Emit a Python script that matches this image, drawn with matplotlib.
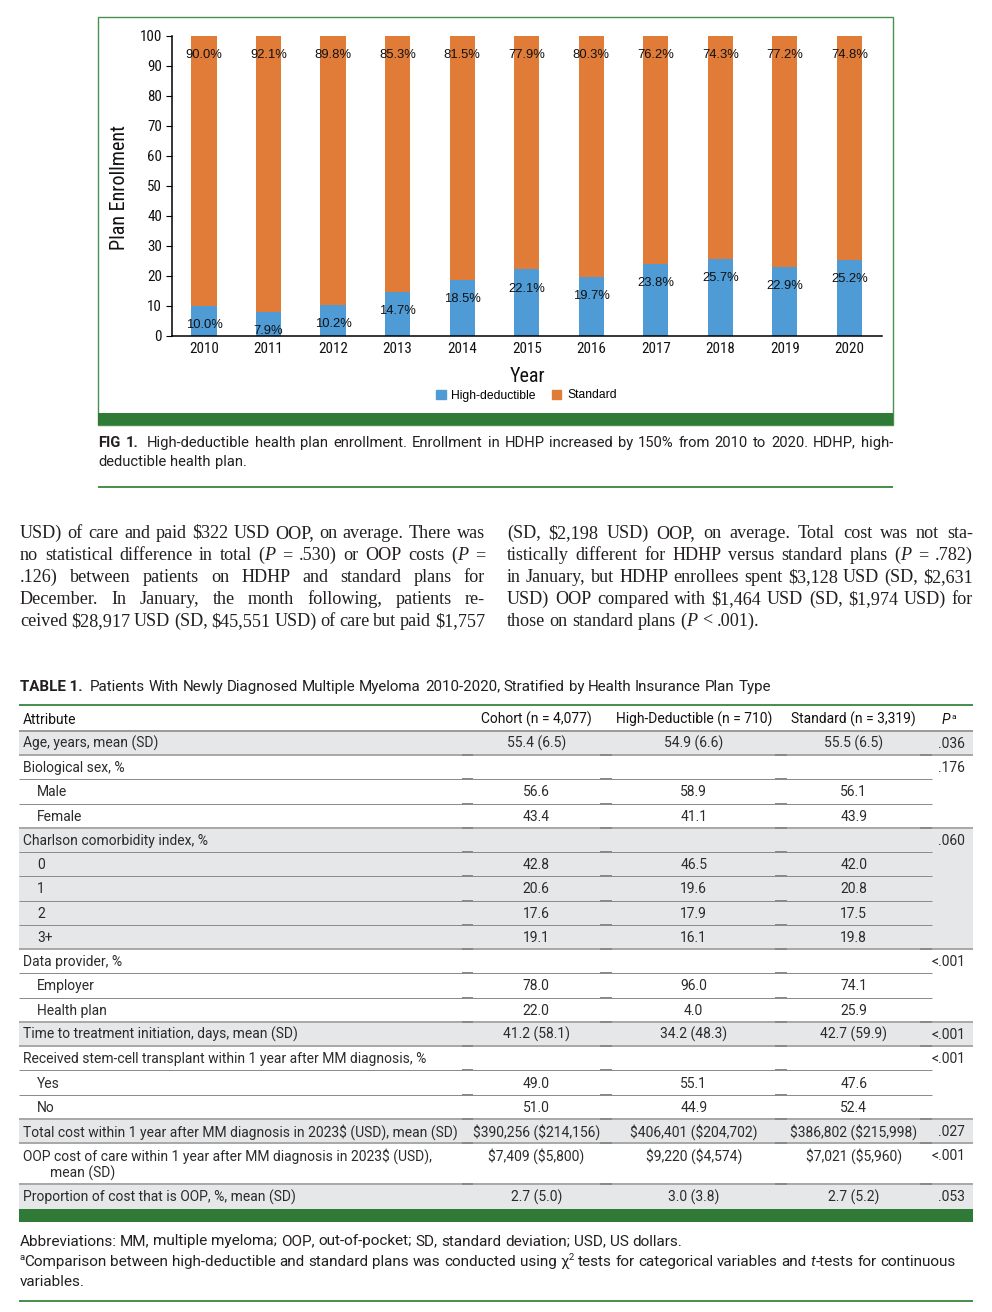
import matplotlib
matplotlib.use("Agg")
import matplotlib.pyplot as plt
from matplotlib.patches import Rectangle
from matplotlib.lines import Line2D
from matplotlib import font_manager

# ---------------- data ----------------
years = [2010, 2011, 2012, 2013, 2014, 2015, 2016, 2017, 2018, 2019, 2020]
high_deductible = [10.0, 7.9, 10.2, 14.7, 18.5, 22.1, 19.7, 23.8, 25.7, 22.9, 25.2]
standard = [90.0, 92.1, 89.8, 85.3, 81.5, 77.9, 80.3, 76.2, 74.3, 77.2, 74.8]
series_names = ["High-deductible", "Standard"]
y_ticks = [0, 10, 20, 30, 40, 50, 60, 70, 80, 90, 100]
y_label = "Plan Enrollment"
x_label = "Year"

caption_lines = [
    "~FIG 1.~ High-deductible health plan enrollment. Enrollment in HDHP increased by 150% from 2010 to 2020. HDHP, high-",
    "deductible health plan.",
]
body_left = [
    "USD) of care and paid $322 USD OOP, on average. There was",
    "no statistical difference in total (*P* = .530) or OOP costs (*P* =",
    ".126) between patients on HDHP and standard plans for",
    "December. In January, the month following, patients re-",
    "ceived $28,917 USD (SD, $45,551 USD) of care but paid $1,757",
]
body_right = [
    "(SD, $2,198 USD) OOP, on average. Total cost was not sta-",
    "tistically different for HDHP versus standard plans (*P* = .782)",
    "in January, but HDHP enrollees spent $3,128 USD (SD, $2,631",
    "USD) OOP compared with $1,464 USD (SD, $1,974 USD) for",
    "those on standard plans (*P* < .001).",
]
table_title_label = "TABLE 1."
table_title = "Patients With Newly Diagnosed Multiple Myeloma 2010-2020, Stratified by Health Insurance Plan Type"
col_headers = ["Attribute", "Cohort (n = 4,077)", "High-Deductible (n = 710)", "Standard (n = 3,319)", "P", "a"]
attributes = [
    "Age, years, mean (SD)", "Biological sex, %", "Male", "Female",
    "Charlson comorbidity index, %", "0", "1", "2", "3+",
    "Data provider, %", "Employer", "Health plan",
    "Time to treatment initiation, days, mean (SD)",
    "Received stem-cell transplant within 1 year after MM diagnosis, %", "Yes", "No",
    "Total cost within 1 year after MM diagnosis in 2023$ (USD), mean (SD)",
    "OOP cost of care within 1 year after MM diagnosis in 2023$ (USD),\nmean (SD)",
    "Proportion of cost that is OOP, %, mean (SD)",
]
is_subitem = [0, 0, 1, 1, 0, 1, 1, 1, 1, 0, 1, 1, 0, 0, 1, 1, 0, 0, 0]
cohort = ["55.4 (6.5)", "", "56.6", "43.4", "", "42.8", "20.6", "17.6", "19.1", "", "78.0", "22.0",
          "41.2 (58.1)", "", "49.0", "51.0", "$390,256 ($214,156)", "$7,409 ($5,800)", "2.7 (5.0)"]
high_ded_col = ["54.9 (6.6)", "", "58.9", "41.1", "", "46.5", "19.6", "17.9", "16.1", "", "96.0", "4.0",
                "34.2 (48.3)", "", "55.1", "44.9", "$406,401 ($204,702)", "$9,220 ($4,574)", "3.0 (3.8)"]
standard_col = ["55.5 (6.5)", "", "56.1", "43.9", "", "42.0", "20.8", "17.5", "19.8", "", "74.1", "25.9",
                "42.7 (59.9)", "", "47.6", "52.4", "$386,802 ($215,998)", "$7,021 ($5,960)", "2.7 (5.2)"]
p_values = [".036", ".176", "", "", ".060", "", "", "", "", "<.001", "", "", "<.001", "<.001", "", "",
            ".027", "<.001", ".053"]
footnotes = [
    "Abbreviations: MM, multiple myeloma; OOP, out-of-pocket; SD, standard deviation; USD, US dollars.",
    "^a^Comparison between high-deductible and standard plans was conducted using \u03c7^2^ tests for categorical variables and *t*-tests for continuous",
    "variables.",
]

# ---------------- styles ----------------
BLUE = "#4E9BD6"
ORANGE = "#E07C38"
GREEN_DARK = "#2F7A36"
GREEN_LINE = "#4A9150"
SHADE = "#E6E7E8"
TXT = "#231F20"

names = {f.name for f in font_manager.fontManager.ttflist}
narrow_candidates = ["Liberation Sans Narrow", "Arial Narrow", "Roboto Condensed",
                     "Open Sans Condensed", "Open Sans Condensed Light"]
narrow_found = [n for n in narrow_candidates if n in names]
CHART_FONT = "Liberation Sans"
NARROW = bool(narrow_found)
NARROW_FONT = [narrow_found[0], "Liberation Sans"] if NARROW else ["Liberation Sans"]
SANS = ["Roboto", "DejaVu Sans"] if "Roboto" in names else ["Liberation Sans", "DejaVu Sans"]
SERIF = ["Liberation Serif", "DejaVu Serif"]

W, H = 992, 1312
fig = plt.figure(figsize=(W / 100, H / 100), dpi=100)
fig.patch.set_facecolor("white")
R = fig.canvas.get_renderer()


def fx(x):
    return x / W


def fy(y):
    return 1 - y / H


def esc(s):
    return s.replace("$", r"\$")


_cache = {}


def tw(s, kw):
    key = (s, repr(sorted(kw.items())))
    if key not in _cache:
        t = fig.text(0, 0, esc(s), **kw)
        _cache[key] = t.get_window_extent(R).width
        t.remove()
    return _cache[key]


def parse(line):
    state = {"i": False, "b": False, "s": False}
    words, cur, buf = [], [], [""]

    def flush():
        if buf[0]:
            cur.append((buf[0], (state["i"], state["b"], state["s"])))
            buf[0] = ""

    for ch in line:
        if ch in "*~^":
            flush()
            key = {"*": "i", "~": "b", "^": "s"}[ch]
            state[key] = not state[key]
        elif ch == " ":
            flush()
            if cur:
                words.append(list(cur))
                cur.clear()
        else:
            buf[0] += ch
    flush()
    if cur:
        words.append(list(cur))
    return words


def kw_for(base, flags):
    it, bd, sp = flags
    kw = dict(base)
    if it:
        kw["style"] = "italic"
    if bd:
        kw["weight"] = "bold"
    if sp:
        kw["size"] = base["size"] * 0.62
    return kw


def space_w(base):
    return tw("n n", base) - tw("nn", base)


def line_parts(line, base):
    words = parse(line)
    widths = [sum(tw(s, kw_for(base, f)) for s, f in w) for w in words]
    return words, widths


def draw_rich(line, x0, yb, base, x1=None, justify=False, first_gap=None):
    words, widths = line_parts(line, base)
    n = len(words)
    sp = space_w(base)
    extra = 0 if first_gap is None else first_gap - sp
    if justify and n > 1:
        gap = (x1 - x0 - sum(widths) - extra) / (n - 1)
    else:
        gap = sp
    x = x0
    em = base["size"] * 100 / 72
    for k, (w, wd) in enumerate(zip(words, widths)):
        xx = x
        for s, f in w:
            kw = kw_for(base, f)
            yy = yb - (0.38 * em if f[2] else 0)
            fig.text(fx(xx), fy(yy), esc(s), ha="left", va="baseline", **kw)
            xx += tw(s, kw)
        x += wd + gap + (extra if k == 1 else 0)


def natural_width(line, base):
    words, widths = line_parts(line, base)
    return sum(widths) + (len(words) - 1) * space_w(base)


def hline(x0, x1, y, lw_px, color, z=3):
    fig.add_artist(Line2D([fx(x0), fx(x1)], [fy(y), fy(y)], transform=fig.transFigure,
                          lw=lw_px * 0.72, color=color, zorder=z, solid_capstyle="butt"))


def rect(x0, y0, x1, y1, color, z=1, fill=True, ec=None, lw=0):
    fig.add_artist(Rectangle((fx(x0), fy(y1)), (x1 - x0) / W, (y1 - y0) / H, transform=fig.transFigure,
                             facecolor=color if fill else "none", edgecolor=ec if ec else "none",
                             lw=lw, zorder=z))


# ---------------- figure box ----------------
rect(98.3, 17.3, 892.7, 425, "white", z=0.5, fill=False, ec=GREEN_LINE, lw=1.0)
rect(98.3, 412.7, 892.7, 425, GREEN_DARK, z=1)

# ---------------- chart ----------------
ax_l, ax_r, ax_t, ax_b = 171.7, 881.7, 35.7, 335.7
ax = fig.add_axes([fx(ax_l), fy(ax_b), (ax_r - ax_l) / W, (ax_b - ax_t) / H])
ax.bar(years, high_deductible, width=0.39, color=BLUE, zorder=2)
ax.bar(years, standard, width=0.39, bottom=high_deductible, color=ORANGE, zorder=2)
ax.set_xlim(2009.5, 2020.5)
ax.set_ylim(0, 100)
ax.set_yticks(y_ticks)
ax.set_xticks(years)
for sp in ["top", "right"]:
    ax.spines[sp].set_visible(False)
for sp in ["left", "bottom"]:
    ax.spines[sp].set_linewidth(1.1)
    ax.spines[sp].set_color("black")
tick_size = 10.8 if NARROW else 9.3
ax.tick_params(axis="y", direction="out", length=4, width=0.8, pad=3, labelsize=tick_size)
ax.tick_params(axis="x", length=0, pad=4.5, labelsize=tick_size)
for lab in ax.get_xticklabels() + ax.get_yticklabels():
    lab.set_family(NARROW_FONT)
    lab.set_color("#111111")

for yr, hv, sv in zip(years, high_deductible, standard):
    ax.text(yr, 93.6, f"{sv:.1f}%", ha="center", va="center", family=CHART_FONT, size=9.4,
            color="#111111", zorder=3)
    ax.text(yr, hv - 6.4, f"{hv:.1f}%", ha="center", va="center", family=CHART_FONT, size=9.4,
            color="#111111", zorder=3)

lab_size = 14.5 if NARROW else 12
ax.set_ylabel(y_label, family=NARROW_FONT, size=lab_size, color="#111111")
ax.yaxis.set_label_coords((129.2 - ax_l) / (ax_r - ax_l), (ax_b - 188) / (ax_b - ax_t))
ax.set_xlabel(x_label, family=NARROW_FONT, size=lab_size, color="#111111")
ax.xaxis.set_label_coords((527 - ax_l) / (ax_r - ax_l), (ax_b - 367.0) / (ax_b - ax_t))

handles = [Rectangle((0, 0), 1, 1, color=BLUE), Rectangle((0, 0), 1, 1, color=ORANGE)]
ax.legend(handles, series_names, loc="center", ncol=2, frameon=False,
          bbox_to_anchor=((526.5 - ax_l) / (ax_r - ax_l), (ax_b - 395.5) / (ax_b - ax_t)),
          prop={"family": CHART_FONT, "size": 8.7}, handlelength=0.75, handleheight=0.75,
          handletextpad=0.45, columnspacing=1.4, borderaxespad=0, borderpad=0)

# ---------------- caption ----------------
cap_base = {"family": SANS, "size": 10, "color": TXT}
cap_base["size"] = 10 * (795 * 0.965) / natural_width(caption_lines[0], cap_base)
draw_rich(caption_lines[0], 98.5, 446.7, cap_base, x1=893, justify=True, first_gap=7.5)
draw_rich(caption_lines[1], 98.5, 466.2, cap_base)
hline(98.3, 892.7, 487.3, 2, GREEN_LINE)

# ---------------- body text ----------------
body_base = {"family": SERIF, "size": 10, "color": TXT}
cols = [(body_left, 20, 485, True), (body_right, 507, 973, False)]
ratios = []
for lines, x0, x1, all_just in cols:
    for i, ln in enumerate(lines):
        if all_just or i < len(lines) - 1:
            words, widths = line_parts(ln, body_base)
            need = sum(widths) + (len(words) - 1) * space_w(body_base) * 0.85
            ratios.append((x1 - x0) / need)
body_base["size"] = min(13.5, 10 * min(ratios))
for lines, x0, x1, all_just in cols:
    for i, ln in enumerate(lines):
        just = all_just or i < len(lines) - 1
        draw_rich(ln, x0, 537.7 + 22.1 * i, body_base, x1=x1, justify=just)

# ---------------- table ----------------
tt_base = {"family": SANS, "size": 10, "color": TXT}
lab_w = tw(table_title_label, dict(tt_base, weight="bold"))
tt_base["size"] = 10 * (757 - 7.5) / (natural_width(table_title, tt_base) + lab_w)
fig.text(fx(19.5), fy(690.7), table_title_label, ha="left", va="baseline", weight="bold", **tt_base)
lab_w = tw(table_title_label, dict(tt_base, weight="bold"))
draw_rich(table_title, 19.5 + lab_w + 7.5, 690.7, tt_base)

T_L, T_R, P_L = 19, 972.7, 931.7
hline(T_L, T_R, 705, 2, GREEN_LINE)

tbase = {"family": SANS, "size": 10, "color": "#2B2B2B"}
tbase["size"] = 10 * 135.7 / tw(attributes[0], tbase)
em = tbase["size"] * 100 / 72
cap_off = 0.356 * em
x_attr, x_sub = 22.7, 37.0
x_cohort, x_hd, x_std, x_p = 536.3, 693.7, 853.7, 965.0

# header
hdr = dict(tbase, color="#111111")
hy = 719.0 + cap_off
fig.text(fx(x_attr), fy(hy), col_headers[0], ha="left", va="baseline", **hdr)
for xc, h in zip([x_cohort, x_hd, x_std], col_headers[1:4]):
    fig.text(fx(xc), fy(hy), h, ha="center", va="baseline", **hdr)
fig.text(fx(942), fy(hy), col_headers[4], ha="left", va="baseline", style="italic", **hdr)
pw = tw(col_headers[4], dict(hdr, style="italic"))
fig.text(fx(942 + pw + 0.5), fy(hy - 0.38 * em), col_headers[5], ha="left", va="baseline",
         **dict(hdr, size=hdr["size"] * 0.6))
hline(T_L, T_R, 730.7, 2, "#9B9B9B", z=4)

# rows
row_h, row_h2 = 24.27, 41.0
tops = []
y = 730.7
for a in attributes:
    tops.append(y)
    y += row_h2 if "\n" in a else row_h
table_bottom = y

group = -1
groups = []
for sub in is_subitem:
    if not sub:
        group += 1
    groups.append(group)

for i, a in enumerate(attributes):
    top = tops[i]
    bot = tops[i + 1] if i + 1 < len(tops) else table_bottom
    if groups[i] % 2 == 0:
        rect(T_L, top, T_R, bot, SHADE, z=1)
    if "\n" in a:
        yb = top + 12.2 + cap_off
    else:
        yb = (top + bot) / 2 + cap_off
    lines = a.split("\n")
    x_a = x_sub if is_subitem[i] else x_attr
    fig.text(fx(x_a), fy(yb), esc(lines[0]), ha="left", va="baseline", **tbase)
    if len(lines) > 1:
        fig.text(fx(50.5), fy(yb + 16.7), esc(lines[1]), ha="left", va="baseline", **tbase)
    for xc, col in zip([x_cohort, x_hd, x_std], [cohort, high_ded_col, standard_col]):
        if col[i]:
            fig.text(fx(xc), fy(yb), esc(col[i]), ha="center", va="baseline", **tbase)
    if p_values[i]:
        fig.text(fx(x_p), fy(yb), p_values[i], ha="right", va="baseline", **tbase)
    # bottom line
    if i + 1 < len(attributes):
        if is_subitem[i + 1]:
            hline(T_L, P_L, bot, 1, "#8C8C8C", z=3)
            marks = [(462, 473), (600, 612), (775, 787)]
        else:
            hline(T_L, T_R, bot, 2, "#A9A9A9", z=3)
            marks = [(462, 473), (600, 612), (775, 787), (920, 932)]
        for m0, m1 in marks:
            hline(m0, m1, bot, 2, "#8A8A8A", z=3.5)

rect(T_L, table_bottom, T_R, 1221.7, GREEN_DARK, z=2)

# footnotes
fn_base = {"family": SANS, "size": 10, "color": TXT}
fn_base["size"] = 10 * 664 / natural_width(footnotes[0], fn_base)
for i, ln in enumerate(footnotes):
    draw_rich(ln, 19.3, 1245.5 + 20.2 * i, fn_base)
hline(T_L, T_R, 1300.7, 2, GREEN_LINE)

fig.savefig("out.png", dpi=100, facecolor="white")
